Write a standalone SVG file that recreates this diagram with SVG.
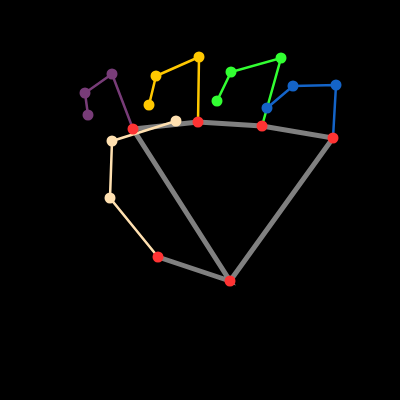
<svg xmlns="http://www.w3.org/2000/svg" width="400" height="400" viewBox="0 0 400 400">
<style>
.g{stroke:#808080;stroke-width:5;fill:none}
.l{stroke-width:2.5;fill:none}
.p{stroke:none}
.red{fill:#ff3333}
.bg{fill:#ffe0b0}
.pu{fill:#783c78}
.ye{fill:#ffc800}
.gr{fill:#32ff32}
.bl{fill:#1464c8}
</style>
<rect width="400" height="400" fill="#000"/>
<g id="connectors">
<path class="g" d="M158,257 L230,281 L133,129 L198,122 L262,126 L333,138 L230,281"/>
<polyline class="l" stroke="#ffe0b0" points="158,257 110,198 112,141 176,121"/>
<polyline class="l" stroke="#783c78" points="133,129 112,74 85,93 88,115"/>
<polyline class="l" stroke="#ffc800" points="198,122 199,57 156,76 149,105"/>
<polyline class="l" stroke="#32ff32" points="262,126 281,58 231,72 217,101"/>
<polyline class="l" stroke="#1464c8" points="333,138 336,85 293,86 267,108"/>
</g>
<g id="wrist"><circle class="red" cx="230" cy="281" r="5.5"/></g>
<g id="palm1"><circle class="red" cx="158" cy="257" r="5.5"/></g>
<g id="palm2"><circle class="red" cx="133" cy="129" r="5.5"/></g>
<g id="palm3"><circle class="red" cx="198" cy="122" r="5.5"/></g>
<g id="palm4"><circle class="red" cx="262" cy="126" r="5.5"/></g>
<g id="palm5"><circle class="red" cx="333" cy="138" r="5.5"/></g>
<g id="thumb1"><circle class="bg" cx="110" cy="198" r="5.5"/></g>
<g id="thumb2"><circle class="bg" cx="112" cy="141" r="5.5"/></g>
<g id="thumb3"><circle class="bg" cx="176" cy="121" r="5.5"/></g>
<g id="index1"><circle class="pu" cx="112" cy="74" r="5.5"/></g>
<g id="index2"><circle class="pu" cx="85" cy="93" r="5.5"/></g>
<g id="index3"><circle class="pu" cx="88" cy="115" r="5.5"/></g>
<g id="middle1"><circle class="ye" cx="199" cy="57" r="5.5"/></g>
<g id="middle2"><circle class="ye" cx="156" cy="76" r="5.5"/></g>
<g id="middle3"><circle class="ye" cx="149" cy="105" r="5.5"/></g>
<g id="ring1"><circle class="gr" cx="281" cy="58" r="5.5"/></g>
<g id="ring2"><circle class="gr" cx="231" cy="72" r="5.5"/></g>
<g id="ring3"><circle class="gr" cx="217" cy="101" r="5.5"/></g>
<g id="pinky1"><circle class="bl" cx="336" cy="85" r="5.5"/></g>
<g id="pinky2"><circle class="bl" cx="293" cy="86" r="5.5"/></g>
<g id="pinky3"><circle class="bl" cx="267" cy="108" r="5.5"/></g>
</svg>
